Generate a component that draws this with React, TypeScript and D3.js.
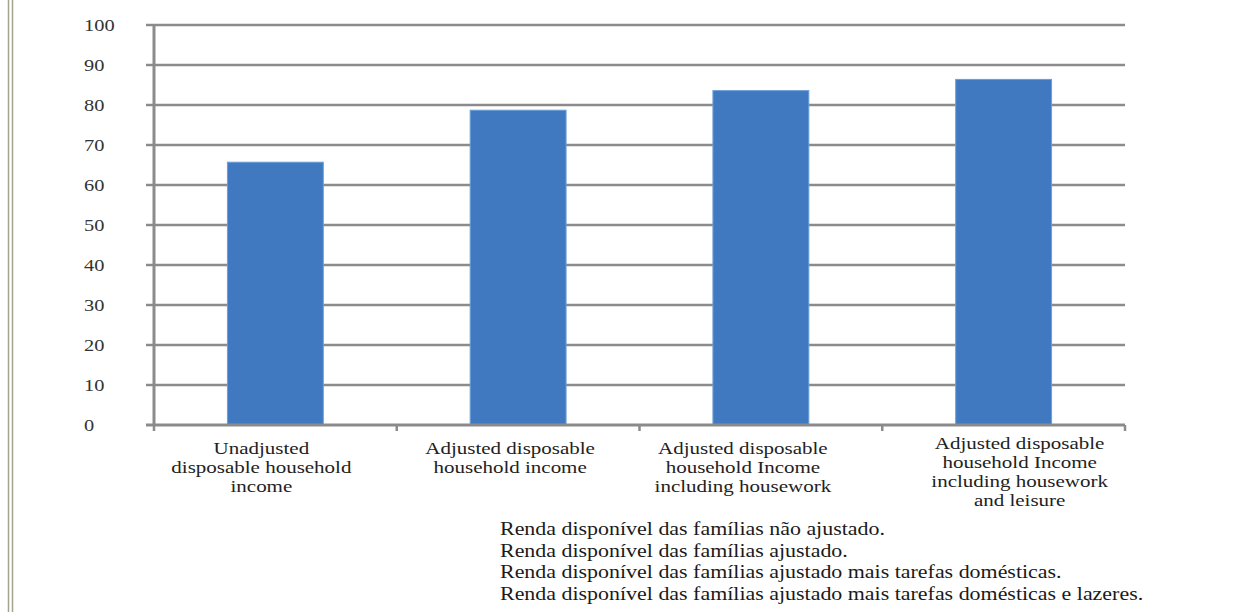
import React from "react";
import * as d3 from "d3";

const categories: string[][] = [
  ["Unadjusted", "disposable household", "income"],
  ["Adjusted disposable", "household income"],
  ["Adjusted disposable", "household Income", "including housework"],
  ["Adjusted disposable", "household Income", "including housework", "and leisure"],
];
const values: number[] = [65.7, 78.7, 83.6, 86.4];
const yTicks: number[] = [0, 10, 20, 30, 40, 50, 60, 70, 80, 90, 100];
const notes: string[] = [
  "Renda disponível das famílias não ajustado.",
  "Renda disponível das famílias ajustado.",
  "Renda disponível das famílias ajustado mais tarefas domésticas.",
  "Renda disponível das famílias ajustado mais tarefas domésticas e lazeres.",
];

const W = 1235;
const H = 612;
const plotLeft = 154;
const plotRight = 1125;
const plotTop = 25;
const plotBottom = 425;
const gridColor = "#8b8b8b";
const barColor = "#4079bf";
const serif = '"Liberation Serif", "DejaVu Serif", "Noto Serif", "Times New Roman", serif';
const SX = 1.2;
// horizontal nudges of the category labels relative to the band centres (layout)
const labelShift = [-14, -8, -18, 16];

export default function App() {
  const ids = categories.map((_, i) => String(i));
  const x = d3.scaleBand<string>().domain(ids).range([plotLeft, plotRight]).padding(0);
  const y = d3.scaleLinear().domain([0, 100]).range([plotBottom, plotTop]);
  const bw = x.bandwidth() * 0.395;
  const boundaries = [...ids.map((id) => x(id) as number), plotRight];

  return (
    <svg width={W} height={H} style={{ position: "absolute", left: 0, top: 0, display: "block" }}>
      <rect x={0} y={0} width={W} height={H} fill="#ffffff" />
      {/* left double rule */}
      <line x1={8.5} x2={8.5} y1={0} y2={H} stroke="#a4a48e" strokeWidth={1.5} />
      <line x1={12.5} x2={12.5} y1={0} y2={H} stroke="#a4a48e" strokeWidth={1.5} />

      {/* gridlines */}
      {yTicks.filter((t) => t > 0).map((t) => (
        <line key={"g" + t} x1={plotLeft - 8} x2={plotRight} y1={y(t)} y2={y(t)} stroke={gridColor} strokeWidth={2.5} />
      ))}

      {/* bars */}
      {values.map((v, i) => {
        const cx = (x(ids[i]) as number) + x.bandwidth() / 2;
        return (
          <rect
            key={"b" + i}
            x={cx - bw / 2}
            y={y(v)}
            width={bw}
            height={y(0) - y(v)}
            fill={barColor}
            stroke="#6a9fd8"
            strokeWidth={1}
          />
        );
      })}

      {/* axes */}
      <line x1={plotLeft} x2={plotLeft} y1={plotTop - 1} y2={plotBottom + 1} stroke={gridColor} strokeWidth={3} />
      <line x1={plotLeft - 8} x2={plotRight} y1={plotBottom} y2={plotBottom} stroke={gridColor} strokeWidth={3} />
      {boundaries.map((bx, i) => (
        <line key={"xt" + i} x1={bx} x2={bx} y1={plotBottom} y2={plotBottom + 6} stroke={gridColor} strokeWidth={2.5} />
      ))}

      {/* y tick labels */}
      {yTicks.map((t) => (
        <text
          key={"yl" + t}
          transform={`translate(84, ${y(t) + 6}) scale(${SX},1)`}
          style={{ fontFamily: serif }}
          fontSize={17}
          fill="#333"
        >
          {t}
        </text>
      ))}

      {/* category labels */}
      {categories.map((lines, i) => {
        const cx = (x(ids[i]) as number) + x.bandwidth() / 2 + labelShift[i];
        const y0 = lines.length > 3 ? 449 : 454;
        return lines.map((ln, j) => (
          <text
            key={"c" + i + "-" + j}
            transform={`translate(${cx}, ${y0 + j * 19}) scale(${SX},1)`}
            textAnchor="middle"
            style={{ fontFamily: serif }}
            fontSize={17.5}
            fill="#222"
          >
            {ln}
          </text>
        ));
      })}

      {/* notes */}
      {notes.map((n, i) => (
        <text
          key={"n" + i}
          transform={`translate(500, ${535 + i * 21.5}) scale(1.125,1)`}
          style={{ fontFamily: serif }}
          fontSize={19.5}
          fill="#1a1a1a"
        >
          {n}
        </text>
      ))}
    </svg>
  );
}
